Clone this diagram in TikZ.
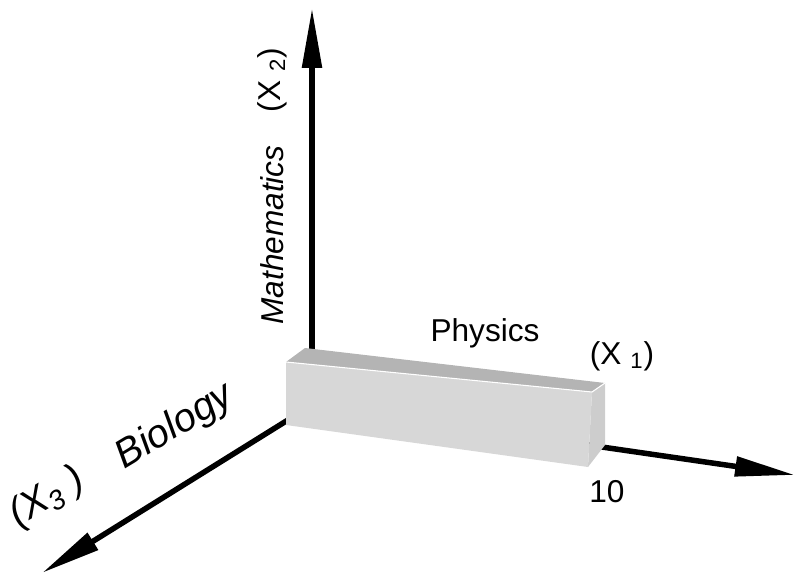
\documentclass[tikz,border=0pt]{standalone}
\usepackage{fontspec}
\setmainfont{Liberation Sans}
\usetikzlibrary{arrows.meta,positioning}
\definecolor{boxtop}{HTML}{B4B4B4}
\definecolor{boxfront}{HTML}{D7D7D7}
\definecolor{boxside}{HTML}{CDCDCD}
\tikzset{
    axis/.style={line width=0.11cm,-{Triangle[length=1.2cm,width=0.38cm]}},
    lbl/.style={inner sep=0pt,font=\fontsize{18}{20}\selectfont},
    biglbl/.style={inner sep=0pt,rotate=31,font=\fontsize{22.5}{24}\selectfont\itshape},
    face/.style={draw=none},
}

\begin{document}
\begin{tikzpicture}[x=0.02cm,y=-0.02cm]
    \useasboundingbox (0,0) rectangle (796,575);
    % axes
    \coordinate (O) at (312,405);
    \coordinate (x2tip) at (312,8);
    \coordinate (x1tip) at (795,475);
    \coordinate (x3tip) at (42,573);
    \draw[axis] (O) -- (x2tip);
    \draw[axis] (O) -- (x1tip);
    \draw[axis] (O) -- (x3tip);
    % the bar
    \fill[face,boxtop] (286,362) -- (305,348) -- (605,383) -- (592,392) -- cycle;
    \fill[face,boxside] (592,392) -- (605,383) -- (605,445) -- (588,467) -- cycle;
    \fill[face,boxfront] (286,362) -- (592,392) -- (588,467) -- (286,425) -- cycle;
    \draw[white,line width=0.6pt] (286,362) -- (592,392) -- (605,383);
    % labels
    \node[lbl,rotate=90,font=\fontsize{18}{20}\selectfont\itshape] (math) at (272,235) {Mathematics};
    \node[lbl,rotate=90] (xtwo) at (272,80) {(X \textsubscript{2})};
    \node[lbl] (phys) at (485,333) {Physics};
    \node[lbl] (xone) at (622,356) {(X \textsubscript{1})};
    \node[lbl] (ten) at (607,492) {10};
    \node[biglbl] (bio) at (175,427) {Biology};
    \node[biglbl] (xthree) at (47,498) {(X\textsubscript{3} )};
\end{tikzpicture}
\end{document}
